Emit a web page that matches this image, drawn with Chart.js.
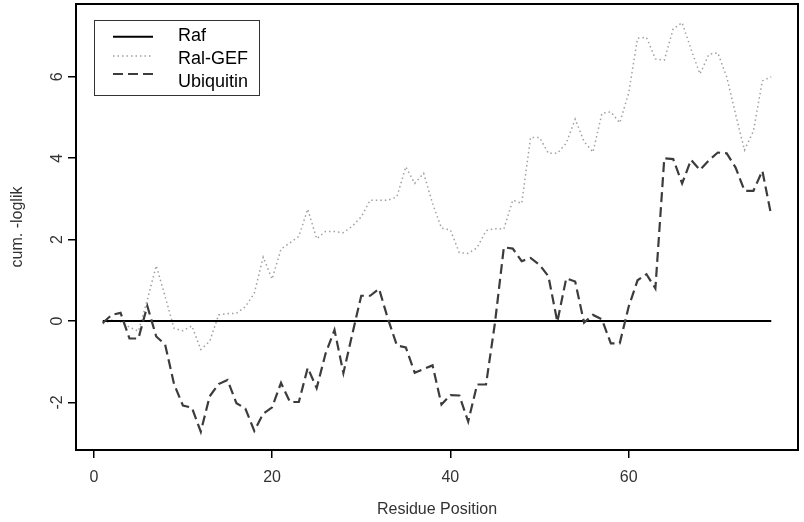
<!DOCTYPE html>
<html>
<head>
<meta charset="utf-8">
<script src="https://cdn.jsdelivr.net/npm/chart.js@4/dist/chart.umd.min.js"></script>
<style>
  body { margin: 0; background: #fff; }
  #wrap { width: 804px; height: 522px; }
</style>
</head>
<body>
<div id="wrap"><canvas id="chart" width="804" height="522"></canvas></div>
<script>
// residue positions along the sequence
const residues = [1,2,3,4,5,6,7,8,9,10,11,12,13,14,15,16,17,18,19,20,
  21,22,23,24,25,26,27,28,29,30,31,32,33,34,35,36,37,38,39,40,
  41,42,43,44,45,46,47,48,49,50,51,52,53,54,55,56,57,58,59,60,
  61,62,63,64,65,66,67,68,69,70,71,72,73,74,75,76];

// cumulative -loglik, Raf is the reference (flat at 0)
const rafValues = [0,0,0,0,0,0,0,0,0,0,0,0,0,0,0,0,0,0,0,0,
  0,0,0,0,0,0,0,0,0,0,0,0,0,0,0,0,0,0,0,0,
  0,0,0,0,0,0,0,0,0,0,0,0,0,0,0,0,0,0,0,0,
  0,0,0,0,0,0,0,0,0,0,0,0,0,0,0,0];

const ralgefValues = [-0.07,0.02,-0.02,-0.15,-0.25,0.52,1.36,0.6,-0.18,-0.24,
  -0.12,-0.7,-0.5,0.15,0.18,0.19,0.35,0.68,1.57,1.03,
  1.77,1.92,2.08,2.75,2.02,2.2,2.2,2.17,2.33,2.56,
  2.97,2.97,2.97,3.05,3.79,3.38,3.63,2.89,2.28,2.24,
  1.68,1.66,1.8,2.22,2.27,2.26,2.97,2.89,4.51,4.51,
  4.12,4.12,4.37,4.96,4.41,4.15,5.1,5.14,4.87,5.6,
  6.95,6.97,6.44,6.41,7.18,7.33,6.68,6.07,6.55,6.59,
  6.0,5.08,4.2,4.67,5.9,6.0];

const ubiquitinValues = [-0.05,0.15,0.2,-0.43,-0.43,0.37,-0.38,-0.58,-1.55,-2.08,
  -2.13,-2.72,-1.85,-1.55,-1.45,-2.02,-2.15,-2.7,-2.28,-2.12,
  -1.52,-1.99,-1.99,-1.15,-1.65,-0.8,-0.22,-1.28,-0.32,0.62,
  0.62,0.79,0.05,-0.6,-0.65,-1.27,-1.18,-1.09,-2.05,-1.82,
  -1.83,-2.47,-1.56,-1.56,-0.05,1.81,1.78,1.47,1.55,1.38,
  1.1,-0.02,1.05,0.97,-0.04,0.15,0.04,-0.55,-0.55,0.35,
  1.0,1.15,0.8,4.0,3.98,3.38,3.96,3.71,3.95,4.14,
  4.12,3.77,3.2,3.2,3.69,2.59];

const xTicks = [0, 20, 40, 60];
const yTicks = [-2, 0, 2, 4, 6];

const FONT = '"Liberation Sans", Arial, sans-serif';

function toPoints(vals) {
    return residues.map((r, i) => ({x: r, y: vals[i]}));
}

// white page + R style box around the plot region
const framePlugin = {
    id: 'frame',
    beforeDraw(chart) {
        const ctx = chart.ctx;
        ctx.save();
        ctx.fillStyle = '#fff';
        ctx.fillRect(0, 0, chart.width, chart.height);
        ctx.restore();
    },
    afterDraw(chart) {
        const a = chart.chartArea;
        const ctx = chart.ctx;
        ctx.save();
        ctx.strokeStyle = '#000';
        ctx.lineWidth = 2;
        ctx.strokeRect(a.left, a.top, a.right - a.left, a.bottom - a.top);
        ctx.restore();
    }
};

// legend box in the top-left corner, drawn like the R legend()
const boxLegend = {
    id: 'boxLegend',
    afterDraw(chart) {
        const ctx = chart.ctx;
        const lineY = [36.7, 56, 74];
        const textY = [36.5, 59, 82];
        ctx.save();
        ctx.strokeStyle = '#333';
        ctx.lineWidth = 1;
        ctx.setLineDash([]);
        ctx.strokeRect(94.5, 20.5, 165, 75);
        chart.data.datasets.forEach((ds, i) => {
            ctx.beginPath();
            ctx.strokeStyle = ds.borderColor;
            ctx.lineWidth = ds.borderWidth;
            ctx.setLineDash(ds.borderDash || []);
            ctx.moveTo(113, lineY[i]);
            ctx.lineTo(153, lineY[i]);
            ctx.stroke();
            ctx.setLineDash([]);
            ctx.fillStyle = '#000';
            ctx.font = '18px ' + FONT;
            ctx.textBaseline = 'middle';
            ctx.textAlign = 'left';
            ctx.fillText(ds.label, 178, textY[i]);
        });
        ctx.restore();
    }
};

const chart = new Chart(document.getElementById('chart'), {
    type: 'line',
    data: {
        datasets: [
            {
                label: 'Raf',
                data: toPoints(rafValues),
                borderColor: '#000',
                borderWidth: 2,
                order: 1
            },
            {
                label: 'Ral-GEF',
                data: toPoints(ralgefValues),
                borderColor: '#a0a0a0',
                borderWidth: 1.5,
                borderDash: [1.5, 3],
                order: 2
            },
            {
                label: 'Ubiquitin',
                data: toPoints(ubiquitinValues),
                borderColor: '#3c3c3c',
                borderWidth: 2.2,
                borderDash: [10, 5],
                order: 0
            }
        ]
    },
    options: {
        responsive: false,
        animation: false,
        elements: {
            point: { radius: 0 },
            line: { tension: 0, fill: false }
        },
        layout: { padding: { top: 4, right: 6, left: 0, bottom: 0 } },
        plugins: {
            legend: { display: false },
            tooltip: { enabled: false }
        },
        scales: {
            x: {
                type: 'linear',
                min: -2,
                max: 79,
                afterBuildTicks: (scale) => { scale.ticks = xTicks.map(v => ({value: v})); },
                afterFit: (scale) => { scale.height = 72; scale.paddingLeft = 0; scale.paddingRight = 0; },
                border: { display: false },
                grid: { drawOnChartArea: false, drawTicks: true, tickLength: 8, color: '#000', lineWidth: 1.5 },
                ticks: { color: '#333', font: { family: FONT, size: 16 }, padding: 10, maxRotation: 0 },
                title: {
                    display: true,
                    text: 'Residue Position',
                    color: '#333',
                    font: { family: FONT, size: 16 },
                    padding: { top: 0, bottom: 2.4 }
                }
            },
            y: {
                type: 'linear',
                min: -3.17,
                max: 7.79,
                afterBuildTicks: (scale) => { scale.ticks = yTicks.map(v => ({value: v})); },
                afterFit: (scale) => { scale.width = 76; scale.paddingTop = 0; scale.paddingBottom = 0; },
                border: { display: false },
                grid: { drawOnChartArea: false, drawTicks: true, tickLength: 8, color: '#000', lineWidth: 1.5 },
                ticks: {
                    color: '#333',
                    font: { family: FONT, size: 16 },
                    padding: 3,
                    minRotation: 90,
                    maxRotation: 90,
                    crossAlign: 'center'
                },
                title: {
                    display: true,
                    text: 'cum. -loglik',
                    color: '#333',
                    font: { family: FONT, size: 16 },
                    padding: { top: 8.4, bottom: 0 }
                }
            }
        }
    },
    plugins: [framePlugin, boxLegend]
});
</script>
</body>
</html>
